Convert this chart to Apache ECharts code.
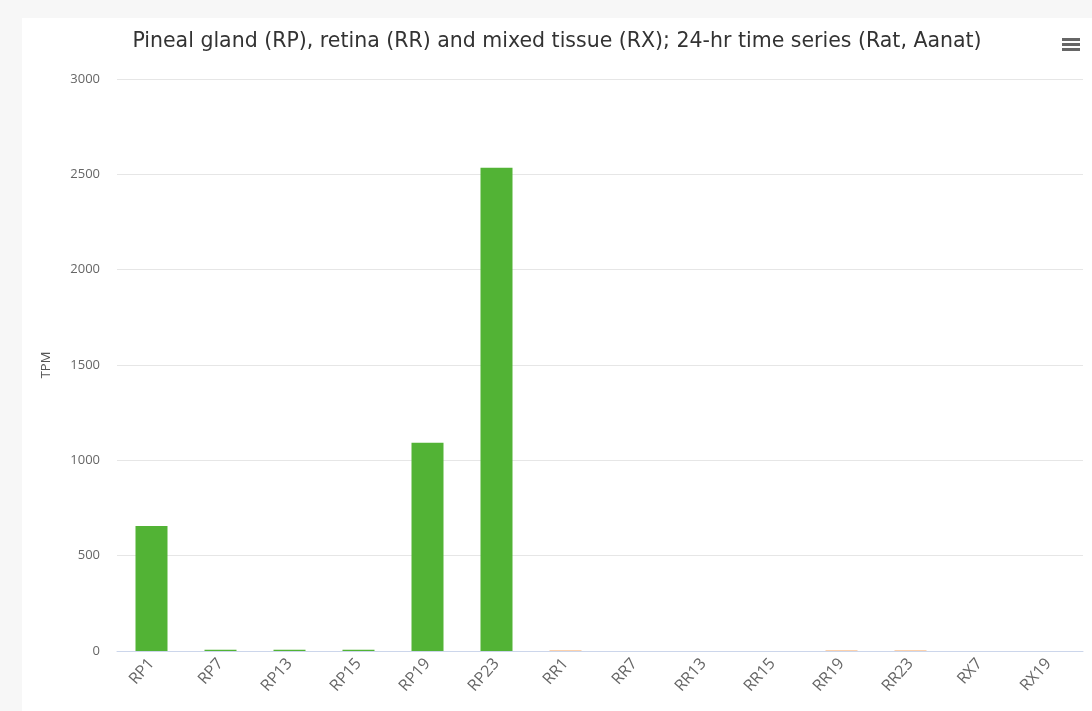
<!DOCTYPE html>
<html>
<head>
<meta charset="utf-8">
<script src="https://cdn.jsdelivr.net/npm/echarts@6/dist/echarts.min.js"></script>
<style>
  html, body { margin: 0; padding: 0; background: #f7f7f7; }
  #chart {
    position: absolute;
    left: 22px;
    top: 18px;
    width: 1070px;
    height: 693px;
    background: #ffffff;
  }
</style>
</head>
<body>
<div id="chart"></div>
<script>
// samples: pineal (RP), retina (RR), mixed tissue (RX)
const categories = ['RP1', 'RP7', 'RP13', 'RP15', 'RP19', 'RP23', 'RR1', 'RR7', 'RR13', 'RR15', 'RR19', 'RR23', 'RX7', 'RX19']
const tpm = [656, 6, 6, 6, 1092, 2535, 3, 0, 0, 0, 3, 3, 0, 0]
const yTicks = [0, 500, 1000, 1500, 2000, 2500, 3000]

const groupColors = { RP: '#52b335', RR: '#f7a35c', RX: '#7cb5ec' }

const chart = echarts.init(document.getElementById('chart'))

chart.setOption({
  animation: false,
  title: {
    text: 'Pineal gland (RP), retina (RR) and mixed tissue (RX); 24-hr time series (Rat, Aanat)',
    left: 'center',
    top: 8,
    textStyle: { fontFamily: 'DejaVu Sans', fontSize: 20.5, fontWeight: 'normal', color: '#333333' },
  },
  grid: { left: 95, right: 9, top: 61, bottom: 60, containLabel: false },
  xAxis: {
    type: 'category',
    data: categories,
    axisTick: { show: false },
    axisLine: { lineStyle: { color: '#ccd6eb', width: 1 } },
    axisLabel: {
      rotate: 48,
      margin: 10,
      fontFamily: 'Open Sans',
      fontSize: 16,
      color: '#666666',
      interval: 0,
    },
  },
  yAxis: {
    type: 'value',
    min: yTicks[0],
    max: yTicks[yTicks.length - 1],
    interval: 500,
    name: 'TPM',
    nameLocation: 'middle',
    nameGap: 64,
    nameTextStyle: { fontFamily: 'Open Sans', fontSize: 13, color: '#555555' },
    axisLine: { show: false },
    axisTick: { show: false },
    splitLine: { lineStyle: { color: '#e6e6e6' } },
    axisLabel: {
      fontFamily: 'Open Sans',
      fontSize: 13,
      color: '#666666',
      margin: 17,
      formatter: (v) => String(v),
    },
  },
  series: [
    {
      type: 'bar',
      data: tpm,
      barWidth: 32,
      itemStyle: {
        color: (p) => groupColors[categories[p.dataIndex].slice(0, 2)],
      },
    },
  ],
  graphic: [
    { type: 'rect', right: 12, top: 20, shape: { width: 18, height: 3 }, style: { fill: '#666666' } },
    { type: 'rect', right: 12, top: 25, shape: { width: 18, height: 3 }, style: { fill: '#666666' } },
    { type: 'rect', right: 12, top: 30, shape: { width: 18, height: 3 }, style: { fill: '#666666' } },
  ],
})
</script>
</body>
</html>
